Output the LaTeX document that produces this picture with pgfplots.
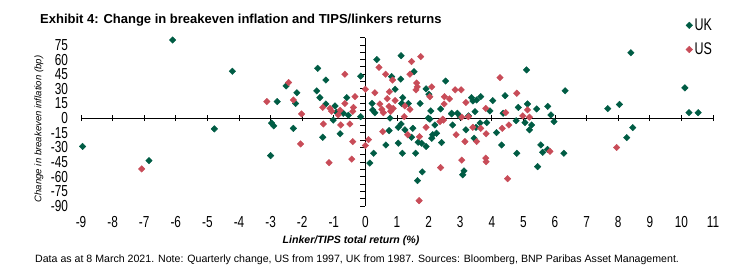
\documentclass[border=0pt]{standalone}
\usepackage{fontspec}
\setmainfont{Liberation Sans}
\usepackage{graphicx}
\usepackage{pgfplots}
\pgfplotsset{compat=1.18}

\definecolor{ukgreen}{RGB}{0,92,68}
\definecolor{usred}{RGB}{200,76,88}

% tall, narrow look of the tick and legend figures
\newcommand{\tl}[1]{\scalebox{1}[1.35]{#1}}

\begin{document}
\begin{tikzpicture}[x=1pt,y=1pt]
\useasboundingbox (0,0) rectangle (740,-278);

% title and source note
\node[anchor=base west, inner sep=0pt, font=\fontsize{13}{15}\selectfont\bfseries]
  at (40,-24) {Exhibit 4: Change in breakeven inflation and TIPS/linkers returns};
\node[anchor=base west, inner sep=0pt, font=\fontsize{10.6}{12}\selectfont]
  at (35,-262) {Data as at 8 March 2021. Note: Quarterly change, US from 1997, UK from 1987. Sources: Bloomberg, BNP Paribas Asset Management.};

% axis titles
\node[rotate=90, inner sep=0pt, font=\fontsize{9.6}{11}\selectfont\itshape]
  at (39,-129) {Change in breakeven inflation (bp)};
\node[inner sep=0pt, font=\fontsize{10.6}{12}\selectfont\bfseries\itshape]
  at (351,-241) {Linker/TIPS total return (\%)};

% tick labels along the outer edges of the plot area
\begin{axis}[
  at={(81pt,-206pt)}, anchor=south west,
  scale only axis, width=632pt, height=168.4pt,
  xmin=-9, xmax=11, ymin=-90, ymax=82.5,
  axis line style={draw=none}, tick style={draw=none},
  xticklabel pos=bottom, yticklabel pos=left,
  xtick={-9,-8,...,11},
  xticklabels={\tl{-9},\tl{-8},\tl{-7},\tl{-6},\tl{-5},\tl{-4},\tl{-3},\tl{-2},\tl{-1},\tl{0},\tl{1},\tl{2},\tl{3},\tl{4},\tl{5},\tl{6},\tl{7},\tl{8},\tl{9},\tl{10},\tl{11}},
  ytick={-90,-75,...,75},
  yticklabels={\tl{-90},\tl{-75},\tl{-60},\tl{-45},\tl{-30},\tl{-15},\tl{0},\tl{15},\tl{30},\tl{45},\tl{60},\tl{75}},
  xticklabel style={font=\fontsize{11.8}{12}\selectfont, yshift=-7pt},
  yticklabel style={font=\fontsize{11.8}{12}\selectfont, xshift=-9.5pt},
]
\end{axis}

% crossing axes, ticks and the two series
\begin{axis}[
  at={(81pt,-206pt)}, anchor=south west,
  scale only axis, width=632pt, height=168.4pt,
  xmin=-9, xmax=11, ymin=-90, ymax=82.5,
  axis lines=middle,
  axis line style={-, line width=1pt, black},
  every inner x axis line/.append style={-},
  every inner y axis line/.append style={-},
  xtick={-9,-8,...,11}, xticklabels={},
  ytick={-90,-82.5,...,82.5}, yticklabels={},
  tick align=center,
  major tick length=6pt,
  tick style={black, line width=0.8pt},
  ytick style={xshift=-2.5pt, /pgfplots/major tick length=5pt},
  clip=false,
  legend style={at={(0.957,1.125)}, anchor=north west, draw=none, fill=none,
    inner sep=0pt, row sep=7pt, font=\fontsize{12.5}{13}\selectfont,
    legend cell align=left},
  legend image post style={mark size=2.3pt},
]
\addplot[only marks, mark=square*, mark size=2.3pt, color=ukgreen,
  mark options={rotate=45, fill=ukgreen, draw=ukgreen}] coordinates {
 (-6.10,80) (-4.21,48) (-2.51,33) (-2.79,17) (-2.17,26) (-2.21,15)
 (-1.51,51) (-1.25,39) (-1.54,28) (-1.44,21) (-1.25,14.5) (-0.96,12.5)
 (-0.59,21) (-0.70,5) (-0.54,3) (-0.92,6) (-0.15,43) (-0.15,1.5) (-1.02,-2)
 (-2.97,-5) (-2.90,-8) (-4.78,-11) (-2.28,-10.5) (-8.95,-29) (-6.85,-43.5)
 (-3.00,-38.4) (-1.35,-19.6) (-0.80,-16) (0.14,-46)
 (1.13,64) (0.36,60) (0.83,42.5) (1.12,40) (1.54,47.6) (0.94,29.6)
 (1.92,30) (2.01,24.5) (2.54,38) (0.21,15) (0.23,8.4) (0.30,5.6)
 (1.18,21) (1.36,15) (1.15,15) (1.73,15) (2.07,7.4) (2.38,9.4)
 (2.73,5) (3.26,2.3) (3.47,6.7) (3.36,21) (3.52,18.6) (0.78,0) (1.99,0)
 (1.13,-6) (1.04,-9.4) (1.25,-12) (1.50,-10.4) (0.75,-12.8) (2.04,-1)
 (2.20,-7) (2.13,-17) (2.25,-15.5) (2.10,-20.6) (1.67,-24.7) (1.78,-25.7)
 (1.92,-29) (1.46,-19.6) (0.65,-27.5) (1.04,-25.7) (1.17,-36) (1.59,-36)
 (0.26,-36) (1.80,-55) (1.65,-64) (2.76,-7) (3.18,-12) (3.50,-9.4)
 (3.12,-54) (3.08,-58) (2.73,4.3) (2.91,5) (3.00,1.5) (2.41,-25)
 (5.10,49.4) (6.32,28) (4.42,23) (4.03,18) (3.65,22) (3.40,17.6)
 (5.13,14.5) (4.84,11) (5.42,9.4) (5.77,12) (5.87,3.3) (3.94,7.4)
 (4.36,5) (5.97,-3.6) (5.26,-7) (5.19,-12) (5.05,-4.6) (4.77,-2.6)
 (3.63,-5) (3.84,-4.6) (4.15,-14.8) (3.44,-20.6) (4.31,-27.5) (4.79,-36)
 (5.55,-27.5) (5.61,-35) (5.76,-32) (6.28,-36) (5.45,-49.7)
 (8.40,67) (10.11,31) (7.67,9.7) (8.04,14) (10.24,5.6) (10.53,5.6)
 (8.46,-9.7) (8.27,-20)
};
\addlegendentry{\tl{UK}}
\addplot[only marks, mark=square*, mark size=2.3pt, color=usred,
  mark options={rotate=45, fill=usred, draw=usred}] coordinates {
 (-2.43,36.4) (-3.12,17) (-2.28,18.6) (-2.02,4.3) (-0.65,45) (-1.35,11)
 (-1.12,10) (-1.07,7) (-0.80,8) (-0.65,15) (-0.33,22) (-0.38,11)
 (-0.40,7) (0.00,29.6) (-0.86,3.3) (-1.33,-6) (-0.78,-7) (-0.49,-6)
 (-7.08,-52) (-2.05,-26.4) (-1.15,-45.6) (-0.43,-42) (-0.40,-24)
 (0.00,-28) (0.10,-22)
 (1.75,63) (1.46,58) (0.43,52) (0.64,45) (0.86,39) (1.41,45) (1.62,36)
 (1.64,32) (1.60,29) (2.10,32) (2.04,22) (0.30,26) (0.76,27) (0.69,20)
 (0.94,18) (0.46,14.5) (0.52,9) (0.57,5.6) (0.75,12) (0.80,7) (0.88,10)
 (1.25,12.5) (1.41,9) (2.50,22) (2.66,19.7) (2.84,29) (3.03,29)
 (2.49,14.5) (3.18,16) (3.05,1) (1.23,1.5) (2.45,-1) (0.55,-13.8)
 (1.34,-17) (1.71,-19) (1.92,-9.4) (2.36,-3.5) (2.47,-2) (2.87,-17)
 (3.15,-24) (3.52,-24) (3.05,-43) (2.38,-50.7) (1.70,-84.5) (3.26,1.5)
 (4.26,41.5) (4.79,25.5) (3.81,10) (4.44,5.6) (5.13,8.4) (4.98,2.3)
 (5.19,1) (3.40,-9.4) (3.65,-10.4) (3.82,-16) (4.33,-10.4) (4.54,-7)
 (5.84,-34) (3.81,-41) (3.82,-44.6) (4.50,-62) (7.95,-30)
};
\addlegendentry{\tl{US}}
\end{axis}
\end{tikzpicture}
\end{document}
